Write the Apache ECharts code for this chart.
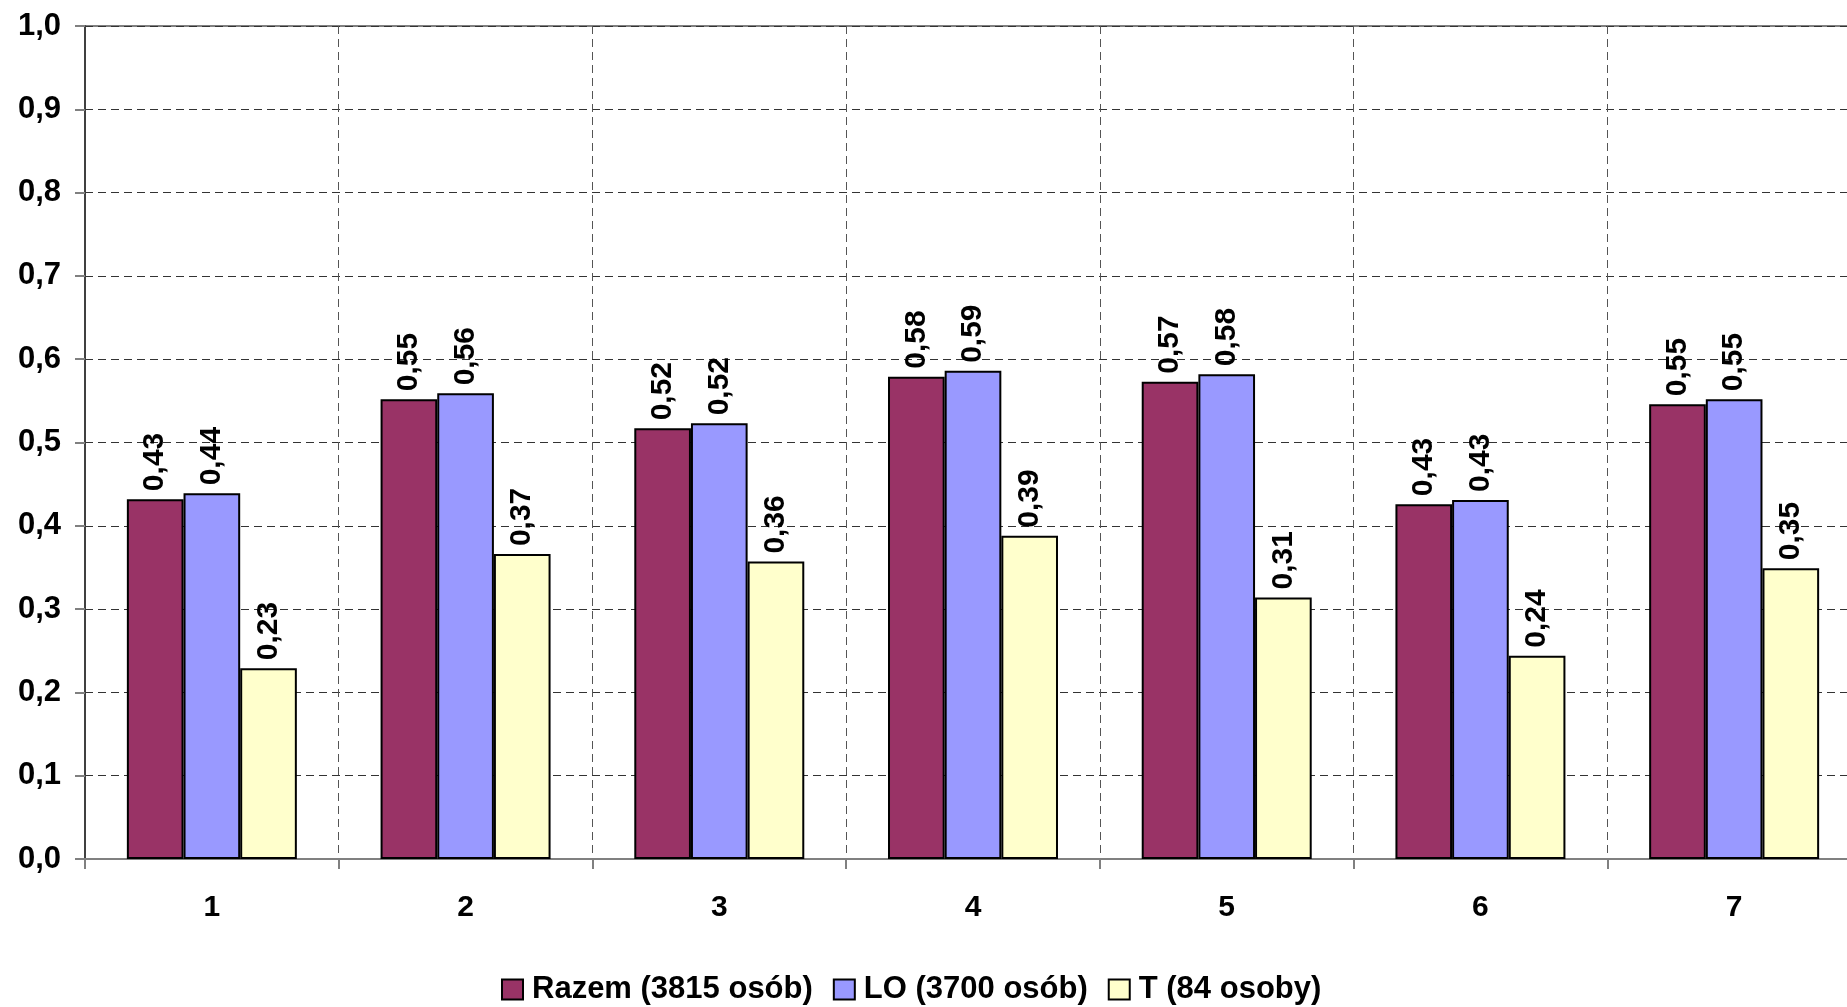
<!DOCTYPE html>
<html>
<head>
<meta charset="utf-8">
<script src="https://cdn.jsdelivr.net/npm/echarts@6/dist/echarts.min.js"></script>
<style>
  html, body { margin: 0; padding: 0; background: #fff; }
  #chart { width: 1847px; height: 1007px; }
</style>
</head>
<body>
<div id="chart"></div>
<script>
// categories and values
const categories = ["1", "2", "3", "4", "5", "6", "7"];
const razem = [0.432, 0.552, 0.517, 0.579, 0.573, 0.426, 0.546];
const lo = [0.439, 0.559, 0.523, 0.586, 0.582, 0.431, 0.552];
const t = [0.229, 0.366, 0.357, 0.388, 0.314, 0.244, 0.349];
const seriesNames = ["Razem (3815 osób)", "LO (3700 osób)", "T (84 osoby)"];
const seriesColors = ["#993366", "#9999FF", "#FFFFCC"];

const font = "'Liberation Sans', Arial, sans-serif";

// comma as decimal separator
function comma(v, digits) {
  return v.toFixed(digits).replace(".", ",");
}

let myChart = echarts.init(document.getElementById("chart"));

function makeSeries(name, data, color) {
  return {
    name: name,
    type: "bar",
    data: data,
    barGap: "0%",
    barCategoryGap: "33%",
    itemStyle: {
      color: color,
      borderColor: "#000",
      borderWidth: 2,
    },
    label: {
      show: true,
      position: "top",
      rotate: 90,
      distance: 8,
      align: "left",
      verticalAlign: "middle",
      color: "#000",
      fontFamily: font,
      fontWeight: "bold",
      fontSize: 30,
      formatter: (p) => comma(p.value, 2),
    },
  };
}

myChart.setOption({
  animation: false,
  backgroundColor: "#fff",
  // the plot runs a little past the right edge, as in the original
  grid: {
    left: 85,
    top: 26,
    right: -14,
    bottom: 148,
    outerBoundsMode: "none",
    show: true,
    borderColor: "#808080",
    borderWidth: 2,
  },
  legend: {
    left: 496,
    top: 969,
    itemWidth: 21,
    itemHeight: 20,
    itemGap: 20,
    icon: "rect",
    textStyle: {
      fontFamily: font,
      fontWeight: "bold",
      fontSize: 31,
      color: "#000",
      padding: [0, 0, 0, 4],
    },
  },
  xAxis: {
    type: "category",
    data: categories,
    boundaryGap: true,
    axisLine: { lineStyle: { color: "#808080", width: 2 } },
    axisTick: { show: true, length: 10, lineStyle: { color: "#808080", width: 2 } },
    axisLabel: {
      margin: 34,
      color: "#000",
      fontFamily: font,
      fontWeight: "bold",
      fontSize: 30,
    },
    splitLine: {
      show: true,
      lineStyle: { color: "#555", type: [8, 5], width: 1 },
    },
  },
  yAxis: {
    type: "value",
    min: 0,
    max: 1,
    interval: 0.1,
    axisLine: { show: true, lineStyle: { color: "#404040", width: 2 } },
    axisTick: { show: true, length: 10, lineStyle: { color: "#808080", width: 2 } },
    axisLabel: {
      margin: 24,
      color: "#000",
      fontFamily: font,
      fontWeight: "bold",
      fontSize: 31,
      formatter: (v) => comma(v, 1),
    },
    splitLine: {
      show: true,
      lineStyle: { color: "#333", type: [8, 5], width: 1 },
    },
  },
  series: [
    makeSeries(seriesNames[0], razem, seriesColors[0]),
    makeSeries(seriesNames[1], lo, seriesColors[1]),
    makeSeries(seriesNames[2], t, seriesColors[2]),
  ],
});
</script>
</body>
</html>
